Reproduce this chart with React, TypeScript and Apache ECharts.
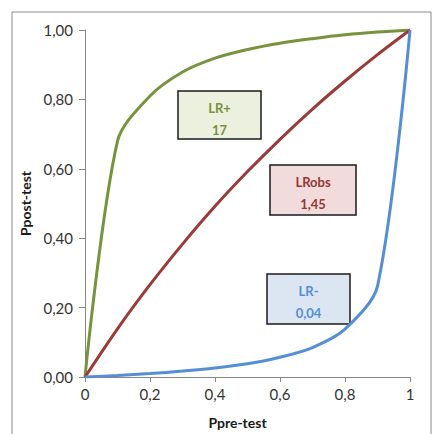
import React, { useEffect, useRef } from "react";
import * as echarts from "echarts";

const xValues = [0, 0.1, 0.2, 0.3, 0.4, 0.5, 0.6, 0.7, 0.8, 0.9, 1];
const lrPlus = [0, 0.68, 0.81, 0.879, 0.919, 0.944, 0.962, 0.975, 0.986, 0.994, 1];
const lrObs = [0, 0.139, 0.266, 0.383, 0.492, 0.592, 0.685, 0.772, 0.853, 0.929, 1];
const lrMinus = [0, 0.0044, 0.0099, 0.017, 0.026, 0.038, 0.057, 0.085, 0.138, 0.262, 1];
const xTickLabels: Record<string, string> = { "0": "0", "0.2": "0,2", "0.4": "0,4", "0.6": "0,6", "0.8": "0,8", "1": "1" };
const FONT = "Lato, 'Open Sans', sans-serif";

const pair = (ys: number[]) => xValues.map((x, i) => [x, ys[i]]);

function box(x: number, y: number, w: number, h: number, fill: string, color: string, l1: string, l2: string) {
  return {
    type: "group",
    children: [
      { type: "rect", shape: { x, y, width: w, height: h }, style: { fill, stroke: "#1a1a1a", lineWidth: 1.5 } },
      { type: "text", x: x + w / 2, y: y + 17, style: { text: l1, fill: color, font: `bold 13px ${FONT}`, align: "center", verticalAlign: "middle" } },
      { type: "text", x: x + w / 2, y: y + 39, style: { text: l2, fill: color, font: `bold 13px ${FONT}`, align: "center", verticalAlign: "middle" } },
    ],
  };
}

export default function App() {
  const ref = useRef<HTMLDivElement>(null);
  useEffect(() => {
    if (!ref.current) return;
    const chart = echarts.init(ref.current, null, { renderer: "svg" });
    chart.setOption({
      animation: false,
      backgroundColor: "#ffffff",
      grid: { left: 85, right: 22, top: 30, bottom: 54 },
      xAxis: {
        type: "value", min: 0, max: 1, interval: 0.2,
        name: "Ppre-test", nameLocation: "middle", nameGap: 38,
        nameTextStyle: { fontFamily: FONT, fontWeight: "bold", fontSize: 14, color: "#1a1a1a", padding: [0, 20, 0, 0] },
        axisLine: { lineStyle: { color: "#868686", width: 1 } },
        axisTick: { show: true, length: 5, lineStyle: { color: "#868686" } },
        axisLabel: { fontFamily: FONT, fontSize: 15, color: "#333", margin: 9, formatter: (v: number) => xTickLabels[String(+v.toFixed(1))] ?? String(v) },
        splitLine: { show: false },
      },
      yAxis: {
        type: "value", min: 0, max: 1, interval: 0.2,
        name: "Ppost-test", nameLocation: "middle", nameGap: 52, nameRotate: 90,
        nameTextStyle: { fontFamily: FONT, fontWeight: "bold", fontSize: 14, color: "#1a1a1a" },
        axisLine: { show: true, lineStyle: { color: "#868686", width: 1 } },
        axisTick: { show: true, length: 6, lineStyle: { color: "#868686" } },
        axisLabel: { fontFamily: FONT, fontSize: 15, color: "#333", margin: 12, formatter: (v: number) => v.toFixed(2).replace(".", ",") },
        splitLine: { show: false },
      },
      series: [
        { type: "line", data: pair(lrPlus), smooth: 0.3, showSymbol: false, lineStyle: { color: "#77933c", width: 3 } },
        { type: "line", data: pair(lrObs), smooth: 0.3, showSymbol: false, lineStyle: { color: "#9b3a37", width: 3 } },
        { type: "line", data: pair(lrMinus), smooth: 0.3, showSymbol: false, lineStyle: { color: "#558ed5", width: 3 } },
      ],
      graphic: [
        { type: "rect", shape: { x: 12, y: 12, width: 419, height: 440 }, style: { fill: "none", stroke: "#8c8c8c", lineWidth: 1 }, z: -1 },
        box(178, 91, 83, 48, "#ebf1de", "#77933c", "LR+", "17"),
        box(270, 165, 86, 50, "#f2dcdb", "#953735", "LRobs", "1,45"),
        box(267, 274, 83, 50, "#dce6f2", "#558ed5", "LR-", "0,04"),
      ],
    });
    return () => chart.dispose();
  }, []);
  return <div ref={ref} style={{ position: "fixed", left: 0, top: 0, width: 432, height: 434 }} />;
}
